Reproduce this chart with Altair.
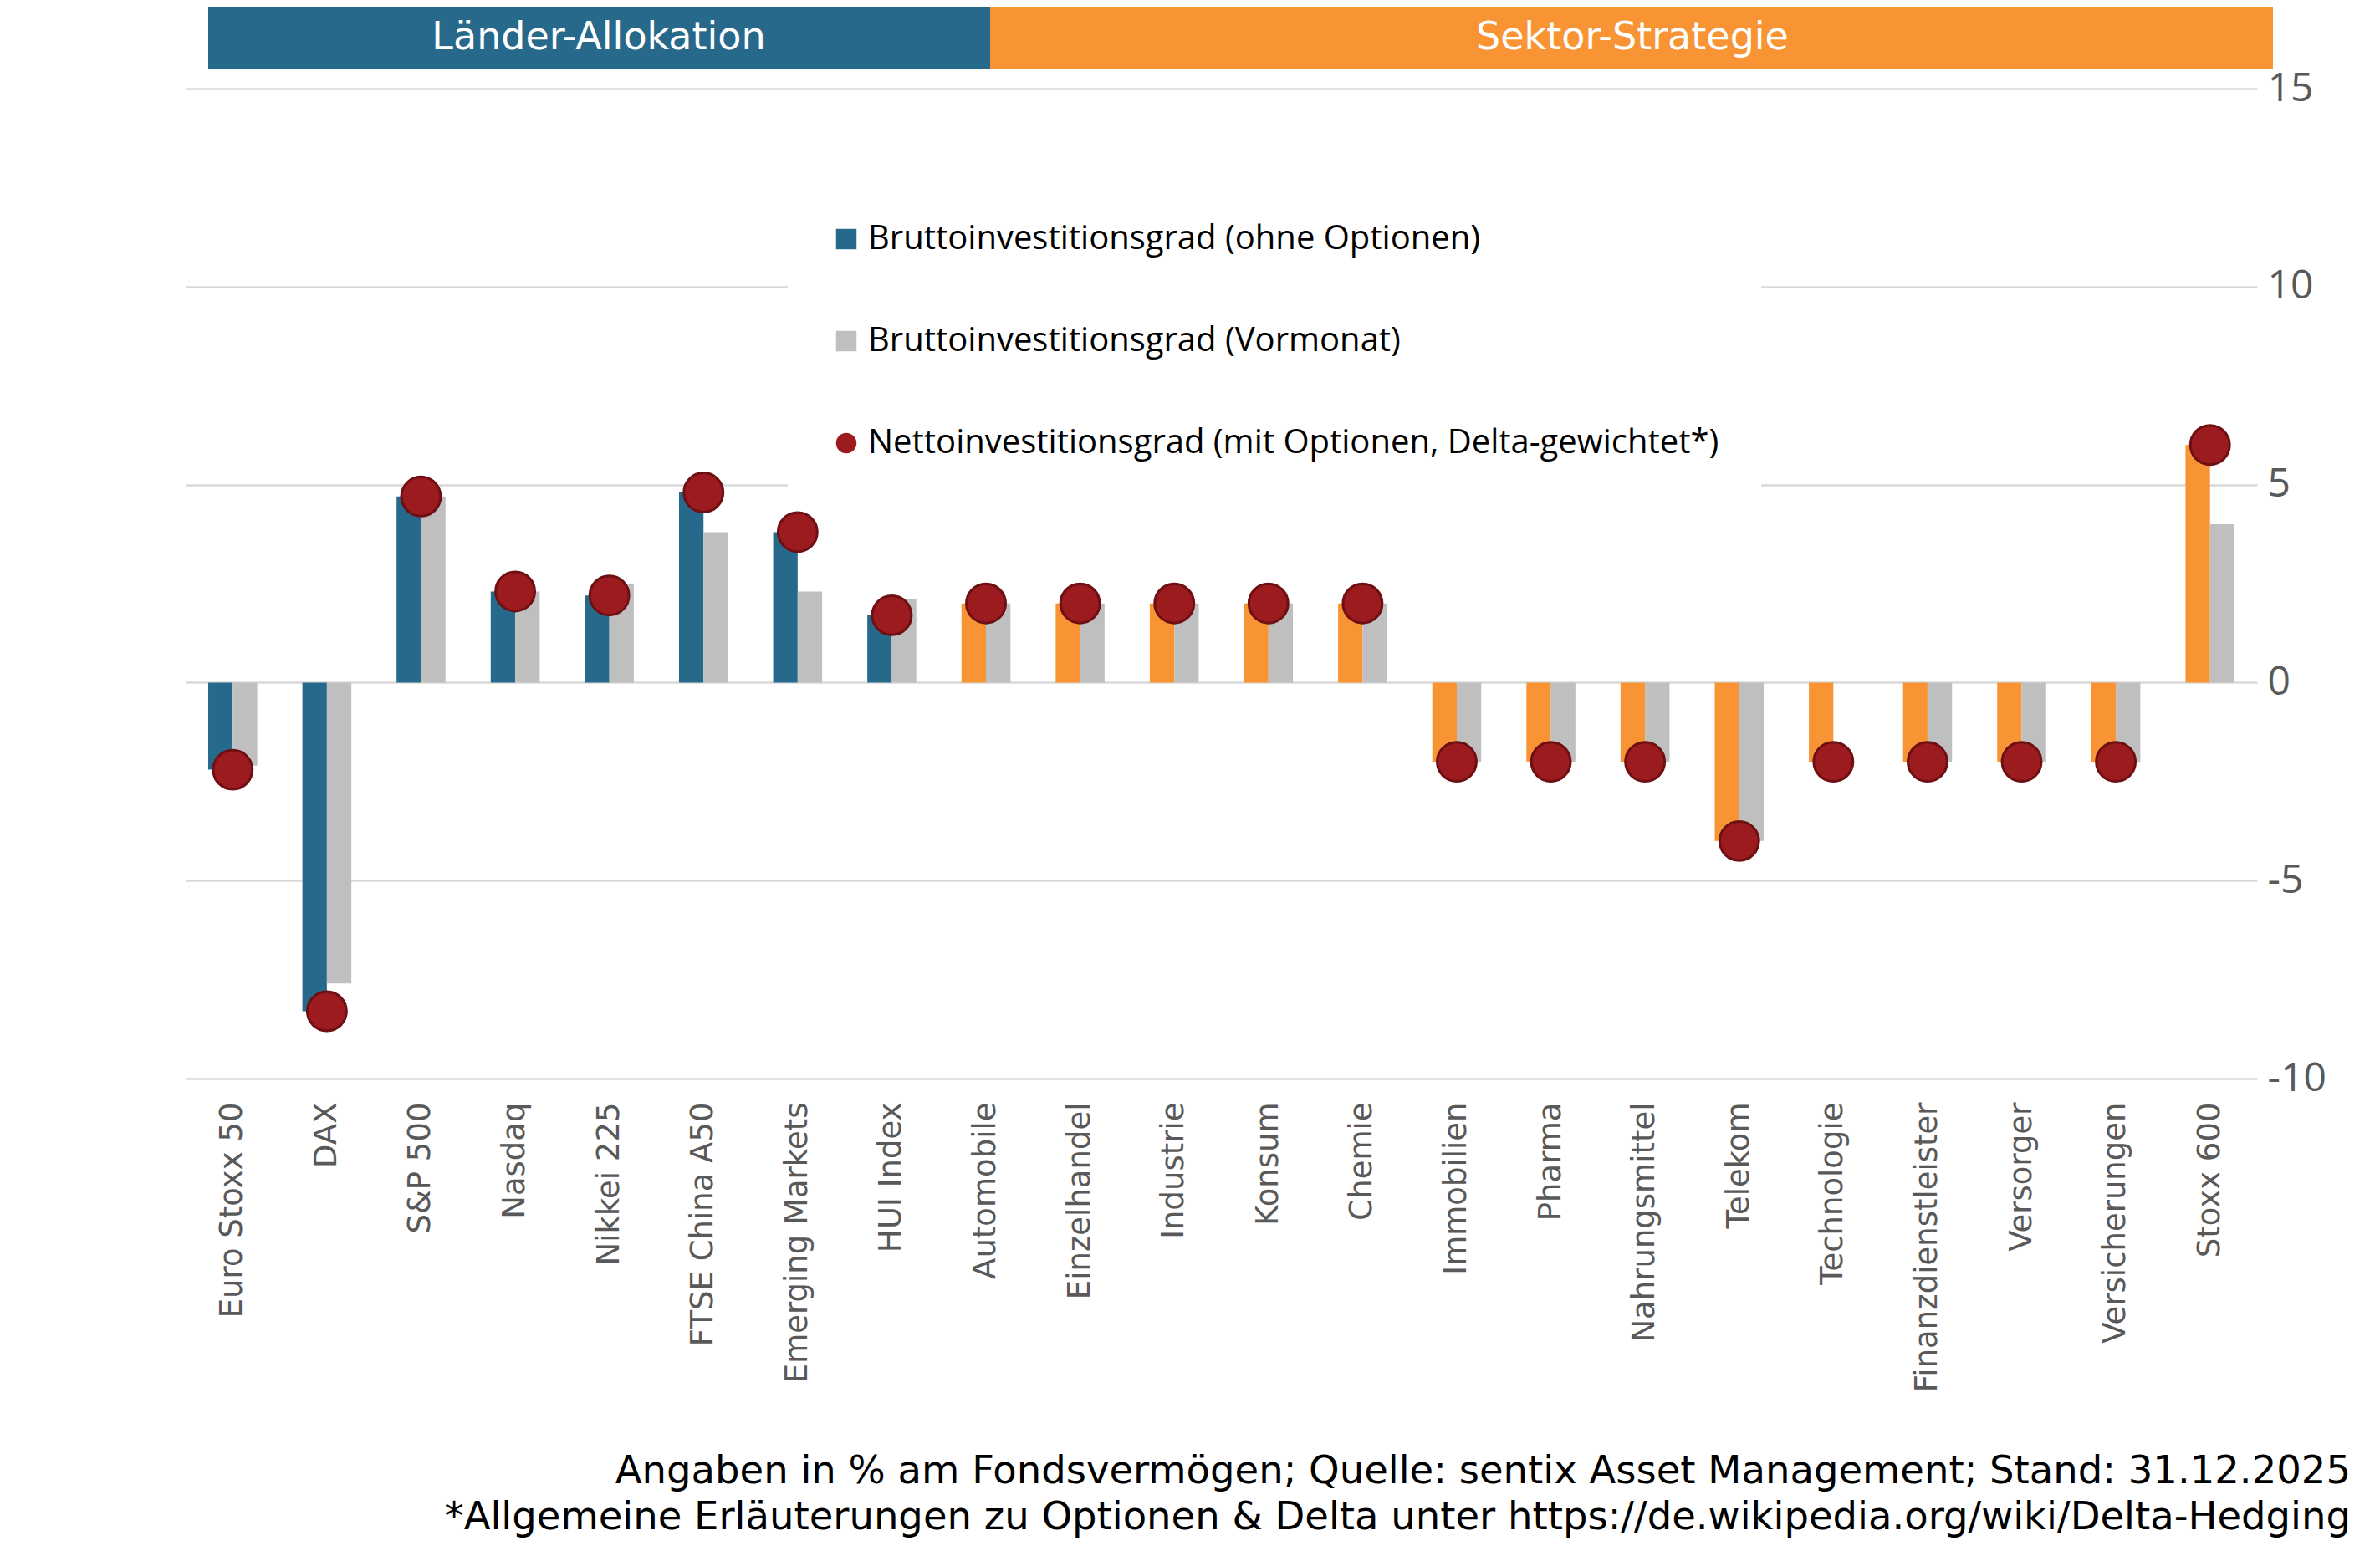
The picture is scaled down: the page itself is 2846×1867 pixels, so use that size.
import altair as alt
import pandas as pd

kategorien = ["Euro Stoxx 50", "DAX", "S&P 500", "Nasdaq", "Nikkei 225", "FTSE China A50",
              "Emerging Markets", "HUI Index", "Automobile", "Einzelhandel", "Industrie",
              "Konsum", "Chemie", "Immobilien", "Pharma", "Nahrungsmittel", "Telekom",
              "Technologie", "Finanzdienstleister", "Versorger", "Versicherungen", "Stoxx 600"]
gruppen = ["Länder"] * 8 + ["Sektor"] * 14
brutto = [-2.2, -8.3, 4.7, 2.3, 2.2, 4.8, 3.8, 1.7, 2.0, 2.0, 2.0, 2.0, 2.0,
          -2.0, -2.0, -2.0, -4.0, -2.0, -2.0, -2.0, -2.0, 6.0]
vormonat = [-2.1, -7.6, 4.7, 2.3, 2.5, 3.8, 2.3, 2.1, 2.0, 2.0, 2.0, 2.0, 2.0,
            -2.0, -2.0, -2.0, -4.0, 0.0, -2.0, -2.0, -2.0, 4.0]
netto = [-2.2, -8.3, 4.7, 2.3, 2.2, 4.8, 3.8, 1.7, 2.0, 2.0, 2.0, 2.0, 2.0,
         -2.0, -2.0, -2.0, -4.0, -2.0, -2.0, -2.0, -2.0, 6.0]
legenden = ["Bruttoinvestitionsgrad (ohne Optionen)",
            "Bruttoinvestitionsgrad (Vormonat)",
            "Nettoinvestitionsgrad (mit Optionen, Delta-gewichtet*)"]
banner = ["Länder-Allokation", "Sektor-Strategie"]
fussnote = ["Angaben in % am Fondsvermögen; Quelle: sentix Asset Management; Stand: 31.12.2025",
            "*Allgemeine Erläuterungen zu Optionen & Delta unter https://de.wikipedia.org/wiki/Delta-Hedging"]
y_ticks = [-10, -5, 0, 5, 10, 15]

BLAU = "#27698b"
ORANGE = "#f89433"
GRAU = "#bfbfbf"
ROT = "#9b1b1f"
ROT_RAND = "#6e1013"

rows = []
for k, g, b, v in zip(kategorien, gruppen, brutto, vormonat):
    rows.append({"Kategorie": k, "Serie": "aktuell", "Wert": b, "Farbe": g})
    rows.append({"Kategorie": k, "Serie": "Vormonat", "Wert": v, "Farbe": "Vormonat"})
df_bars = pd.DataFrame(rows)
df_netto = pd.DataFrame({"Kategorie": kategorien, "Netto": netto})
df_leg = pd.DataFrame({"Legende": legenden, "Kategorie": [kategorien[0]] * 3, "Wert": [0, 0, 0]})

W, H = 2477, 1184

x_enc = alt.X("Kategorie:N", sort=kategorien,
              scale=alt.Scale(domain=kategorien, paddingInner=0.48, paddingOuter=0.24),
              axis=alt.Axis(title=None, labelAngle=-90, labelAlign="right", labelBaseline="middle",
                            labelFont="DejaVu Sans", labelFontSize=37, labelColor="#595959",
                            labelPadding=28, ticks=False, domain=False, grid=False, labelLimit=1000))
y_scale = alt.Scale(domain=[-10, 15], nice=False, zero=False)
y_axis = alt.Axis(title=None, orient="right", values=y_ticks, labelFont="Open Sans",
                  labelFontSize=48, labelColor="#595959", labelPadding=12, ticks=False,
                  domain=False, grid=True, gridColor="#d9d9d9", gridWidth=2.5, labelAlign="left",
                  labelBaseline="middle", labelExpr="toString(datum.value)")

bars = alt.Chart(df_bars).mark_bar().encode(
    x=x_enc,
    xOffset=alt.XOffset("Serie:N", sort=["aktuell", "Vormonat"],
                        scale=alt.Scale(domain=["aktuell", "Vormonat"], paddingInner=0, paddingOuter=0)),
    y=alt.Y("Wert:Q", scale=y_scale, axis=y_axis),
    color=alt.Color("Farbe:N", scale=alt.Scale(domain=["Länder", "Sektor", "Vormonat"],
                                               range=[BLAU, ORANGE, GRAU]), legend=None),
)

dots = alt.Chart(df_netto).mark_point(filled=True, shape="circle", size=2200, fill=ROT,
                                      stroke=ROT_RAND, strokeWidth=3, opacity=1).encode(
    x=alt.X("Kategorie:N", sort=kategorien),
    y=alt.Y("Netto:Q", scale=y_scale),
)

leg_def = alt.Legend(title=None, orient="none", legendX=720, legendY=110, fillColor="white",
                     padding=50, rowPadding=82, labelFont="Open Sans", labelFontSize=40,
                     labelColor="black", symbolSize=600, labelOffset=6, symbolStrokeWidth=0,
                     symbolOpacity=1, direction="vertical", labelLimit=3000)
legend_layer = alt.Chart(df_leg).mark_point(filled=True, opacity=0).encode(
    x=alt.X("Kategorie:N", sort=kategorien),
    y=alt.Y("Wert:Q", scale=y_scale),
    color=alt.Color("Legende:N", scale=alt.Scale(domain=legenden, range=[BLAU, GRAU, ROT]), legend=leg_def),
    shape=alt.Shape("Legende:N", scale=alt.Scale(domain=legenden, range=["square", "square", "circle"]),
                    legend=leg_def),
)

b1 = alt.Chart(pd.DataFrame({"t": [banner[0]]})).mark_rect(color=BLAU).encode(
    x=alt.value(27), x2=alt.value(962), y=alt.value(-98), y2=alt.value(-24))
b2 = alt.Chart(pd.DataFrame({"t": [banner[1]]})).mark_rect(color=ORANGE).encode(
    x=alt.value(962), x2=alt.value(2496), y=alt.value(-98), y2=alt.value(-24))
t1 = alt.Chart(pd.DataFrame({"t": [banner[0]]})).mark_text(
    color="white", font="DejaVu Sans", fontSize=46, align="center", baseline="middle").encode(
    x=alt.value(494), y=alt.value(-61), text="t:N")
t2 = alt.Chart(pd.DataFrame({"t": [banner[1]]})).mark_text(
    color="white", font="DejaVu Sans", fontSize=46, align="center", baseline="middle").encode(
    x=alt.value(1730), y=alt.value(-61), text="t:N")

foot = alt.Chart(pd.DataFrame({"t": ["\n".join(fussnote)]})).mark_text(
    color="black", font="DejaVu Sans", fontSize=46.5, align="right",
    baseline="alphabetic", lineBreak="\n", lineHeight=55).encode(
    x=alt.value(2589), y=alt.value(1668), text="t:N")

chart = alt.layer(bars, dots, legend_layer, b1, b2, t1, t2, foot).resolve_scale(
    color="independent", shape="independent"
).properties(
    width=W, height=H,
    autosize=alt.AutoSizeParams(type="none"),
    padding={"left": 214, "top": 98, "right": 139, "bottom": 568},
    background="white",
).configure_view(stroke=None)

chart.save("out.html", embed_options={"renderer": "svg", "actions": False})
